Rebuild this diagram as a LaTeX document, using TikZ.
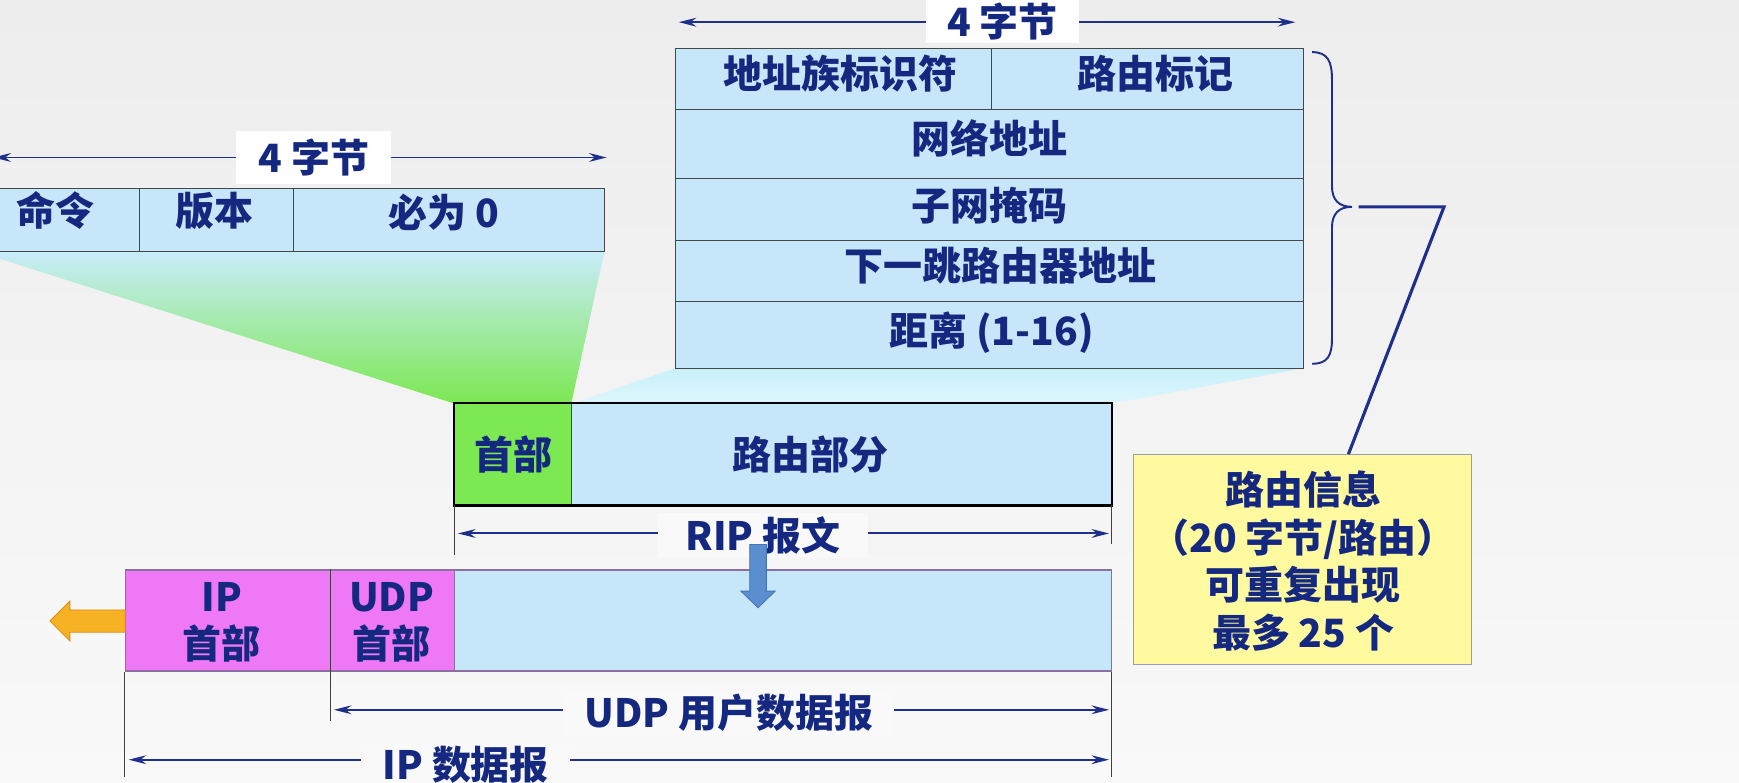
\documentclass[tikz,border=0pt]{standalone}
\usepackage{fontspec}
\setmainfont{Noto Sans CJK SC}
\usetikzlibrary{arrows.meta,fit,calc}
\definecolor{navy}{RGB}{20,40,128}
\definecolor{dimnavy}{RGB}{30,48,140}
\definecolor{cellblue}{RGB}{198,230,250}
\definecolor{cellline}{RGB}{70,70,70}
\definecolor{hdrgreen}{RGB}{124,232,82}
\definecolor{magentacell}{RGB}{238,120,246}
\definecolor{ipline}{RGB}{140,110,160}
\definecolor{yellowbox}{RGB}{255,250,160}
\definecolor{yellowline}{RGB}{150,160,180}
\definecolor{orangearrow}{RGB}{246,178,35}
\definecolor{orangeline}{RGB}{215,140,20}
\definecolor{steelarrow}{RGB}{90,142,206}
\definecolor{steelline}{RGB}{70,115,180}
\definecolor{bgtop}{RGB}{237,237,237}
\definecolor{bgmid}{RGB}{247,247,247}
\definecolor{bgbot}{RGB}{249,249,249}
\definecolor{funtop}{RGB}{200,236,250}
\definecolor{funmid}{RGB}{185,238,215}
\definecolor{funright}{RGB}{200,240,250}
\begin{document}
\begin{tikzpicture}[x=0.02cm,y=-0.02cm,
  every node/.style={font=\bfseries\fontsize{20}{24}\selectfont, text=navy},
  cell/.style={draw=cellline, line width=0.6pt, fill=cellblue, inner sep=0pt},
  ipcell/.style={draw=ipline, line width=0.6pt, fill=magentacell, inner sep=0pt},
  celltext/.style={inner sep=0pt},
  dimline/.style={draw=dimnavy, line width=1pt, {Stealth[length=9pt,width=4.5pt]}-{Stealth[length=9pt,width=4.5pt]}},
  dimlab/.style={fill=bgbot, inner xsep=11pt, inner ysep=2pt},
  extline/.style={draw=black!75, line width=0.4pt},
  bracestyle/.style={draw=dimnavy, line width=1pt},
  leader/.style={draw=dimnavy, line width=1.6pt, line join=miter}
]
\clip (0,0) rectangle (1568,706);
\shade[top color=bgtop, middle color=bgmid, bottom color=bgbot] (0,0) rectangle (1568,706);

% funnels
\shade[top color=funtop, middle color=funmid, bottom color=hdrgreen] (-20,227) -- (545,227) -- (515,364) -- (410,364) -- cycle;
\shade[top color=funright, bottom color=funright!60!white] (609,332) -- (1175,332) -- (1002,364) -- (515,364) -- cycle;

% left header table
\node[cell, fit={(-20,170) (126,227)}] (cmd) {};
\node[cell, fit={(126,170) (265,227)}] (ver) {};
\node[cell, fit={(265,170) (545,227)}] (zero) {};
\node[celltext] (cmdtxt) at (50,190) {命令};
\node[celltext] (vertxt) at (193,190) {版本};
\node[celltext] (zerotxt) at (400,192) {必为 0};

% left dimension
\coordinate (d1a) at (-6,142);
\coordinate (d1b) at (547,142);
\draw[dimline] (d1a) -- (d1b);
\node[fill=white, minimum width=2.8cm, minimum height=0.94cm, inner sep=0pt] (d1lab) at (283,142) {4 字节};

% route entry table
\node[cell, fit={(609,44) (894,99)}] (afi) {};
\node[cell, fit={(894,44) (1175,99)}] (tag) {};
\node[cell, fit={(609,99) (1175,161)}] (net) {};
\node[cell, fit={(609,161) (1175,217)}] (mask) {};
\node[cell, fit={(609,217) (1175,272)}] (hop) {};
\node[cell, fit={(609,272) (1175,332)}] (dist) {};
\node[celltext] (afitxt) at (758,66) {地址族标识符};
\node[celltext] (tagtxt) at (1042,66) {路由标记};
\node[celltext] (nettxt) at (892,125) {网络地址};
\node[celltext] (masktxt) at (892,185) {子网掩码};
\node[celltext] (hoptxt) at (902,240) {下一跳路由器地址};
\node[celltext] (disttxt) at (894,300) {距离 (1-16)};

% top dimension
\coordinate (d2a) at (612,20);
\coordinate (d2b) at (1168,20);
\draw[dimline] (d2a) -- (d2b);
\node[fill=white, minimum width=2.76cm, minimum height=0.8cm, inner sep=0pt] (d2lab) at (904,19) {4 字节};

% brace and leader
\draw[bracestyle] (1183,47) .. controls (1197,47) and (1201,55) .. (1201,72) -- (1201,168)
  .. controls (1201,180) and (1207,186.5) .. (1219,186.5)
  .. controls (1207,186.5) and (1201,193) .. (1201,205) -- (1201,305)
  .. controls (1201,321) and (1197,328) .. (1183,328);

% info box
\node[draw=yellowline, line width=0.6pt, fill=yellowbox, inner sep=0pt, fit={(1022,410) (1327,599)}] (info) {};
\node[align=center, font=\bfseries\fontsize{20}{24.4}\selectfont] (infotxt) at (1175,506) {路由信息\\（20 字节/路由）\\可重复出现\\最多 25 个};
\coordinate (lead0) at (1225,186.5);
\coordinate (lead1) at (1302,186.5);
\draw[leader] (lead0) -- (lead1) -- ($(info.north west)!0.635!(info.north east)$);

% RIP message
\node[cell, fill=hdrgreen, fit={(410,364) (515,455)}] (hdr) {};
\node[cell, fit={(515,364) (1002,455)}] (route) {};
\node[draw=black, line width=1.4pt, inner sep=0pt, fit=(hdr)(route)] (rip) {};
\node[celltext] (hdrtxt) at (463,410) {首部};
\node[celltext] (routetxt) at (731,410) {路由部分};

\draw[extline] (hdr.south west) -- ++(0,45);
\draw[extline] (route.south east) -- ++(0,35);
\coordinate (d3a) at (413,481);
\coordinate (d3b) at (1000,481);
\draw[dimline] (d3a) -- (d3b);
\node[dimlab, inner xsep=14pt] (d3lab) at (688,483) {RIP 报文};

% IP datagram
\node[ipcell, fit={(113,514) (298,605)}] (iph) {};
\node[ipcell, fit={(298,514) (410,605)}] (udph) {};
\node[cell, draw=ipline, fit={(410,514) (1002,605)}] (payload) {};
\node[celltext, align=center, font=\bfseries\fontsize{20}{23.8}\selectfont] (iphtxt) at (200,561) {IP\\首部};
\node[celltext, align=center, font=\bfseries\fontsize{20}{23.8}\selectfont] (udphtxt) at (353,561) {UDP\\首部};

% blue down arrow
\filldraw[fill=steelarrow, draw=steelline, line width=0.4pt]
  (676,491) -- (691,491) -- (691,533) -- (699,533) -- (683.5,548) -- (668,533) -- (676,533) -- cycle;

% orange left arrow
\filldraw[fill=orangearrow, draw=orangeline, line width=0.4pt]
  (113,550) -- (63,550) -- (63,542) -- (45,560) -- (63,578) -- (63,570) -- (113,570) -- cycle;

% extension lines and dims
\draw[extline] (udph.north west) -- ($(udph.south west)+(0,45)$);
\draw[extline] (iph.south west) -- ++(0,95);
\draw[extline] (payload.south east) -- ++(0,95);

\coordinate (d4a) at (301,640);
\coordinate (d4b) at (1000,640);
\draw[dimline] (d4a) -- (d4b);
\node[dimlab] (d4lab) at (657,643) {UDP 用户数据报};

\coordinate (d5a) at (116,685);
\coordinate (d5b) at (1000,685);
\draw[dimline] (d5a) -- (d5b);
\node[dimlab] (d5lab) at (420,690) {IP 数据报};
\end{tikzpicture}
\end{document}
